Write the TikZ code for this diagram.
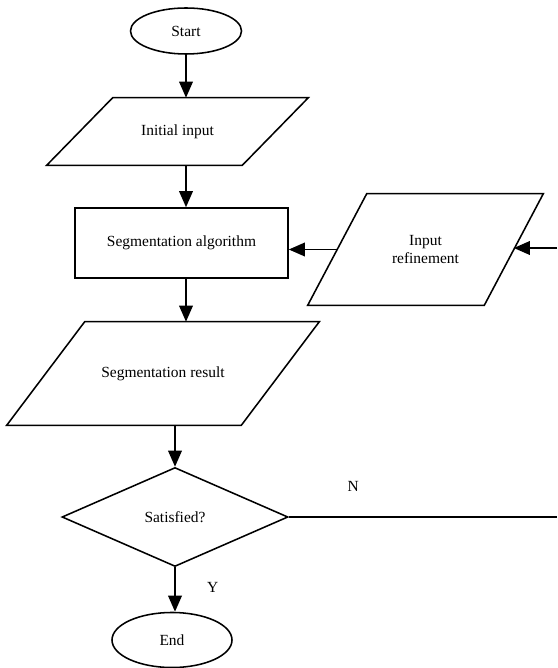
\documentclass[tikz,border=0pt]{standalone}
\usepackage{fontspec}
\setmainfont{Liberation Serif}
\usetikzlibrary{shapes.geometric,arrows.meta}

\tikzset{
    every node/.style={font=\fontsize{11pt}{13pt}\selectfont},
    term node/.style={ellipse,draw,line width=1.1pt,inner sep=2},
    io node/.style={rectangle,inner sep=2,align=center},
    proc node/.style={rectangle,draw,line width=1.1pt},
    cond node/.style={diamond,draw,line width=1.1pt,inner sep=0},
    flow/.style={line width=1.1pt,-{Triangle[length=0.4cm,width=0.34cm]}},
    plain flow/.style={line width=1.1pt}
    }
% slanted outline round an io node (#2 = half of the slant)
\newcommand{\ioframe}[2]{%
    \draw[line width=1.1pt] ([xshift=#2]#1.north west) -- ([xshift=#2]#1.north east)
        -- ([xshift=-#2]#1.south east) -- ([xshift=-#2]#1.south west) -- cycle;}

\begin{document}
\begin{tikzpicture}[x=0.025cm,y=-0.025cm]
    % Fix the page to the reference size
    \useasboundingbox (0,0) rectangle (557,668);
    % The Nodes
    \node(start)[term node,minimum width=2.775cm,minimum height=1.15cm] at (186,31) {Start};
    \node(input)[io node,minimum width=4.875cm,minimum height=1.675cm] at (177.5,131.5) {Initial input};
    \node(algo)[proc node,minimum width=5.325cm,minimum height=1.75cm] at (181.5,243) {Segmentation algorithm};
    \node(refine)[io node,minimum width=4.4cm,minimum height=2.775cm] at (425.5,249.5) {Input\\refinement};
    \node(result)[io node,minimum width=5.85cm,minimum height=2.575cm] at (163,373.5) {Segmentation result};
    \node(check)[cond node,minimum width=5.65cm,minimum height=2.475cm] at (175,517) {Satisfied?};
    \node(stop)[term node,minimum width=3cm,minimum height=1.375cm] at (172,640) {End};
    \ioframe{input}{0.825cm}
    \ioframe{refine}{0.7375cm}
    \ioframe{result}{0.975cm}
    % Loop back ends at the page edge
    \coordinate(noexit) at (557,517);
    \coordinate(noback) at (557,248);
    % The Connectors
    \draw[flow] (start.south) -- (start.south |- input.north);
    \draw[flow] (input.south -| start.south) -- (algo.north -| start.south);
    \draw[flow] (algo.south -| start.south) -- (result.north -| start.south);
    \draw[flow] (result.south -| check.north) -- (check.north);
    \draw[flow] (check.south) -- (check.south |- stop.north)
        node[pos=0.45,right=19pt]{Y};
    \draw[plain flow] (check.east) -- (noexit)
        node[pos=0.24,above=14pt]{N};
    \draw[flow] (noback) -- (noback -| refine.east);
    \draw[flow] (refine.west) -- (refine.west -| algo.east);
\end{tikzpicture}
\end{document}
